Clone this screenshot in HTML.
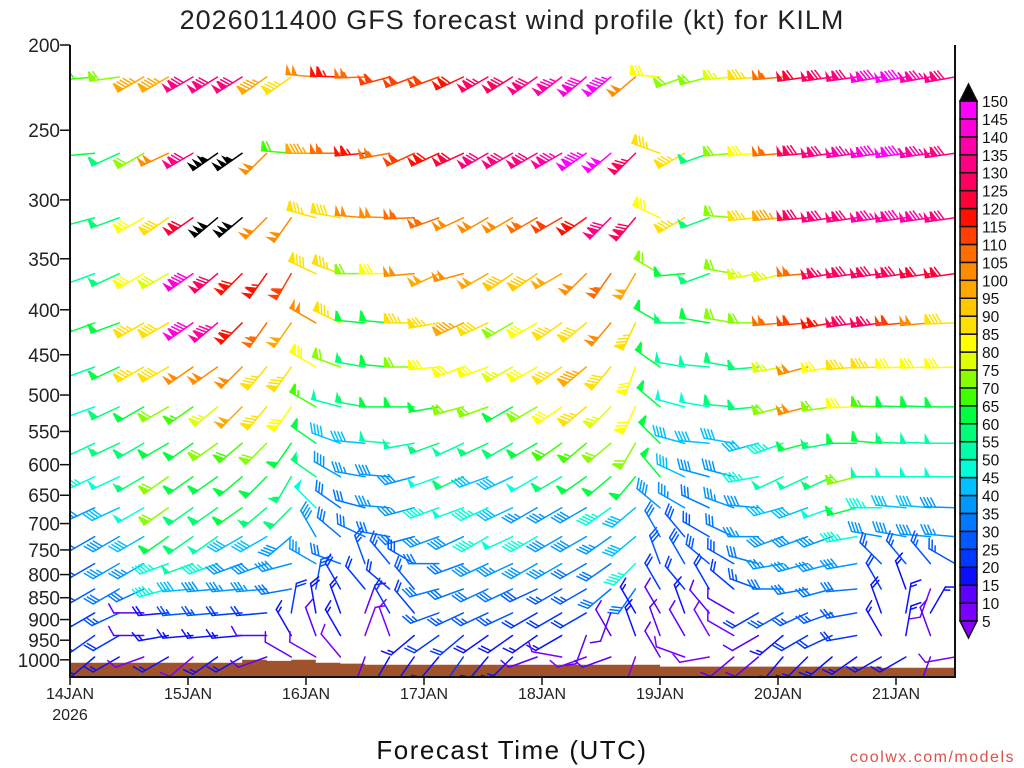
<!DOCTYPE html>
<html><head><meta charset="utf-8">
<style>
html,body{margin:0;padding:0;background:#fff;}
svg{display:block;font-family:"Liberation Sans",sans-serif;}
</style></head>
<body>
<svg id="chart" width="1024" height="768" viewBox="0 0 1024 768" xmlns="http://www.w3.org/2000/svg">
<defs><clipPath id="plotclip"><rect x="70" y="45" width="885" height="632"/></clipPath></defs>
<rect x="0" y="0" width="1024" height="768" fill="#fff"/>
<text x="512" y="29" text-anchor="middle" font-size="27" fill="#222" letter-spacing="1">2026011400 GFS forecast wind profile (kt) for KILM</text>
<g id="terrain"></g>
<g id="barbs" clip-path="url(#plotclip)"></g>
<g id="axes"></g>
<g id="colorbar"></g>
<text x="512" y="759" text-anchor="middle" font-size="26" fill="#111" letter-spacing="1.5">Forecast Time (UTC)</text>
<text x="1015" y="762" text-anchor="end" font-size="16" fill="#e0504a" letter-spacing="1.5">coolwx.com/models</text>
</svg>
<script>
const hours = [0,5,10,15,20,25,30,35,40,45,50,55,60,65,70,75,80,85,90,95,100,105,110,115,120,125,130,135,140,145,150,155,160,165,170,175,180];
const levels = [250,300,350,400,450,500,550,600,650,700,750,800,850,900,950,1000];
const yTickLabels = [200,250,300,350,400,450,500,550,600,650,700,750,800,850,900,950,1000];
const xTickLabels = ["14JAN","15JAN","16JAN","17JAN","18JAN","19JAN","20JAN","21JAN"];
const legendLevels = [5,10,15,20,25,30,35,40,45,50,55,60,65,70,75,80,85,90,95,100,105,110,115,120,125,130,135,140,145,150];
const legendColors = ["#7a00ff","#5c00ff","#0a10ff","#0038ff","#0058ff","#0078ff","#0098ff","#00c0ff","#00ffd8","#00ffa8","#00ff78","#00ff40","#40ff00","#88ff00","#e0ff00","#ffff00","#ffe000","#ffc800","#ffa800","#ff8c00","#ff6c00","#ff4000","#ff1000","#ff0038","#ff0060","#ff0080","#ff00a8","#ff00d8","#ff00ff"];
const sfcP = [1008,1008,1008,1008,1008,1008,1008,1000,1003,1000,1008,1010,1013,1013,1013,1013,1013,1013,1013,1013,1013,1013,1013,1013,1018,1018,1018,1018,1018,1018,1018,1018,1018,1021,1021,1021,1021];

const spd250 = [65,68,72,95,95,130,130,132,95,85,100,115,105,110,110,110,118,125,128,130,135,140,145,100,82,72,70,75,85,105,122,128,132,140,145,135,130];
const dir250 = [265,265,262,240,240,240,238,238,235,235,275,272,268,255,250,250,245,240,238,235,232,230,230,230,275,250,255,265,265,265,262,262,262,260,260,260,260];
const spd300 = [48,62,58,72,100,130,155,155,100,68,95,105,115,105,112,118,120,130,130,130,135,145,148,125,85,85,58,72,82,105,128,130,135,140,145,135,130];
const dir300 = [240,265,245,240,245,240,235,235,225,275,270,270,265,260,245,245,245,240,240,240,240,235,230,225,290,240,250,265,265,265,265,262,262,262,262,262,262];
const spd350 = [40,58,58,82,88,120,152,152,100,100,85,88,100,100,105,105,100,100,102,105,112,118,130,128,82,85,55,72,85,95,128,130,132,135,138,135,132];
const dir350 = [235,255,250,240,235,235,230,230,225,215,285,280,275,272,268,250,245,240,240,240,240,235,225,220,295,240,250,275,265,265,265,262,262,262,262,262,262];
const spd400 = [38,50,55,82,78,142,128,118,115,110,88,85,70,80,100,98,100,98,90,90,98,100,105,98,72,60,55,70,75,75,105,125,128,128,128,122,120];
const dir400 = [240,250,245,240,240,235,230,225,215,210,295,290,270,270,265,245,255,240,235,235,240,225,215,210,300,265,250,280,260,255,265,260,262,262,262,262,262];
const spd450 = [58,60,62,85,88,142,135,118,105,98,100,85,62,62,85,85,95,88,70,80,85,88,100,85,62,55,60,70,72,105,110,115,128,125,112,100,88];
const dir450 = [245,250,250,240,240,235,230,225,215,215,300,295,275,275,270,260,245,245,240,240,235,230,220,205,300,270,280,280,270,265,265,260,262,262,265,265,268];
const spd500 = [60,52,62,85,88,100,100,102,85,85,80,72,55,60,72,82,82,80,75,80,85,95,88,82,62,50,50,58,58,75,100,82,85,85,82,82,82];
const dir500 = [245,250,245,240,240,235,235,225,220,215,300,290,280,275,270,265,250,250,240,240,235,230,220,200,305,280,275,280,265,260,255,260,265,268,268,268,268];
const spd550 = [45,48,58,60,72,65,75,98,85,82,65,50,55,62,62,60,70,70,60,72,80,85,75,80,62,48,48,58,58,72,100,72,80,65,62,62,62];
const dir550 = [245,250,245,240,240,235,230,225,220,215,300,285,280,270,270,260,255,250,240,240,235,230,225,205,310,285,280,275,265,255,255,262,268,272,272,272,270];
const spd600 = [48,50,55,58,60,62,72,68,70,60,62,40,40,52,50,55,50,55,58,60,68,65,70,72,60,42,40,40,42,45,60,55,62,60,55,50,50];
const dir600 = [245,245,245,240,240,235,235,230,225,215,305,290,275,275,260,250,245,245,240,240,235,230,230,210,315,285,275,280,255,250,255,260,270,275,272,272,270];
const spd650 = [35,45,48,55,70,60,62,60,60,55,55,38,35,38,38,48,58,42,40,48,58,60,60,62,62,40,38,38,45,50,50,55,72,50,48,48,48];
const dir650 = [240,245,245,240,235,235,235,230,225,210,305,300,280,275,255,250,245,250,245,240,240,235,230,220,320,295,285,285,260,245,245,245,255,270,270,270,270];
const spd700 = [32,38,40,48,72,58,58,60,55,58,48,32,30,35,35,45,48,45,40,35,35,38,45,40,38,35,32,35,38,40,40,48,60,45,40,40,38];
const dir700 = [240,245,245,240,235,235,235,235,230,225,315,305,285,275,255,250,250,245,245,240,240,240,235,230,310,300,295,290,275,255,250,250,255,270,275,275,272];
const spd750 = [30,32,38,40,60,58,50,42,40,38,38,32,30,32,32,35,38,45,48,45,38,38,35,40,30,28,28,32,35,38,38,35,45,38,38,38,35];
const dir750 = [240,240,240,240,235,235,235,240,240,230,330,310,295,280,255,250,245,240,245,240,240,240,235,230,330,320,300,295,270,250,250,250,260,280,280,275,275];
const spd800 = [30,28,35,35,45,50,45,38,38,38,35,30,25,25,28,30,32,38,35,38,35,32,30,45,28,28,28,28,30,35,35,35,38,25,25,25,25];
const dir800 = [240,240,240,240,250,250,250,250,250,255,300,290,340,320,300,270,250,245,245,240,240,240,235,225,340,330,310,300,285,260,255,255,260,315,320,320,300];
const spd850 = [25,28,30,30,45,40,38,35,35,30,25,22,20,22,25,30,30,32,30,28,25,25,30,30,20,20,22,22,25,30,32,30,30,20,15,8,8];
const dir850 = [240,240,240,245,255,265,265,265,265,260,10,330,320,310,320,255,250,245,245,245,240,240,230,215,330,320,330,310,290,270,260,255,265,330,340,200,30];
const spd900 = [22,20,25,12,18,25,25,22,20,20,18,15,12,20,22,25,25,25,25,22,22,20,12,15,12,15,12,10,20,25,25,25,25,18,15,15,10];
const dir900 = [240,240,245,270,265,265,265,265,265,10,350,340,20,330,320,250,245,245,245,240,240,240,200,330,330,340,320,300,240,240,245,250,260,340,10,30,30];
const spd950 = [20,20,20,10,15,15,15,15,10,15,10,15,8,8,15,20,20,18,18,15,15,12,10,15,10,10,8,8,10,15,20,20,20,15,15,10,8];
const dir950 = [240,235,240,270,260,265,265,265,270,330,340,330,20,340,230,235,230,235,235,235,240,200,330,340,340,330,330,300,240,230,240,245,260,330,10,340,10];
const spd1000 = [15,15,15,8,15,8,15,15,10,10,8,8,10,15,18,18,20,18,15,10,8,8,10,8,10,8,8,10,10,15,15,15,15,15,15,10,8];
const dir1000 = [240,230,240,250,240,230,235,240,250,300,300,320,200,210,215,220,215,220,225,250,280,250,250,200,330,290,260,230,230,220,225,230,235,240,240,200,260];

const speeds = [spd250,spd300,spd350,spd400,spd450,spd500,spd550,spd600,spd650,spd700,spd750,spd800,spd850,spd900,spd950,spd1000];
const dirs = [dir250,dir300,dir350,dir400,dir450,dir500,dir550,dir600,dir650,dir700,dir750,dir800,dir850,dir900,dir950,dir1000];

const NS = "http://www.w3.org/2000/svg";
const PL = 70, PR = 955, PT = 45, PB = 677;
function xScale(h){ return PL + h / 24 * 118; }
function yScale(p){ return PT + Math.log(p / 200) * 382; }
function barbY(p){ return 77 + Math.log(p / 250) / Math.log(4) * 580; }
function mk(tag, attrs, parent){
  const e = document.createElementNS(NS, tag);
  for (const k in attrs) e.setAttribute(k, attrs[k]);
  parent.appendChild(e); return e;
}
function colorFor(s){
  if (s >= 150) return "#000";
  if (s < 5) return "#8800ff";
  return legendColors[Math.min(28, Math.floor(s / 5) - 1)];
}

const terr = document.getElementById("terrain");
let d = "M" + PL + "," + PB;
for (let k = 0; k < hours.length; k++) {
  const x0 = xScale(hours[k]), x1 = k < hours.length - 1 ? xScale(hours[k + 1]) : PR;
  const y = yScale(sfcP[k]);
  d += " L" + x0.toFixed(1) + "," + y.toFixed(1) + " L" + x1.toFixed(1) + "," + y.toFixed(1);
}
d += " L" + PR + "," + PB + " Z";
const tp = mk("path", {d: d, fill: "#a0522d"}, terr);



const bg = document.getElementById("barbs");
function drawBarb(x, y, spd, dir){
  const col = colorFor(spd);
  const g = mk("g", {stroke: col, fill: col, "stroke-width": 1.5, "stroke-linecap": "round"}, bg);
  
  
  const r = dir * Math.PI / 180, sx = Math.sin(r), sy = -Math.cos(r);
  const L = 30, tx = x + sx * L, ty = y + sy * L;
  const px = -sy, py = sx;
  const fx = (px * 0.9 + sx * 0.5) * 10, fy = (py * 0.9 + sy * 0.5) * 10;
  mk("line", {x1: x, y1: y, x2: tx, y2: ty}, g);
  let n = Math.round(spd / 5) * 5;
  const flags = Math.floor(n / 50); n -= flags * 50;
  const full = Math.floor(n / 10); n -= full * 10;
  const half = n >= 5 ? 1 : 0;
  let pos = 0;
  for (let i = 0; i < flags; i++) {
    const ax = tx - sx * pos, ay = ty - sy * pos;
    const cx = tx - sx * (pos + 5), cy = ty - sy * (pos + 5);
    mk("polygon", {points: ax + "," + ay + " " + (cx + fx) + "," + (cy + fy) + " " + cx + "," + cy, "stroke-width": 0.8}, g);
    pos += 6;
  }
  if (flags === 0 && full === 0 && half) pos = 3.5;
  for (let i = 0; i < full; i++) {
    const ax = tx - sx * pos, ay = ty - sy * pos;
    mk("line", {x1: ax, y1: ay, x2: ax + fx, y2: ay + fy}, g);
    pos += 3.5;
  }
  if (half) {
    const ax = tx - sx * pos, ay = ty - sy * pos;
    mk("line", {x1: ax, y1: ay, x2: ax + fx * 0.6, y2: ay + fy * 0.6}, g);
  }
}
for (let li = 0; li < levels.length; li++) {
  for (let k = 0; k < hours.length; k++) {
    drawBarb(xScale(hours[k]), barbY(levels[li]), speeds[li][k], dirs[li][k]);
  }
}

const ax = document.getElementById("axes");
const frame = mk("path", {d: "M" + PL + "," + PT + " L" + PL + "," + PB + " L" + PR + "," + PB + " L" + PR + "," + PT, fill: "none", stroke: "#111", "stroke-width": 2}, ax);


yTickLabels.forEach(function(p){
  const y = yScale(p);
  const t = mk("line", {x1: PL - 10, y1: y, x2: PL, y2: y, stroke: "#111", "stroke-width": 1.5}, ax);
  
  
  const lb = mk("text", {x: PL - 10, y: y + 7, "text-anchor": "end", "font-size": 19, fill: "#222"}, ax);
  
  
  lb.textContent = p;
});
xTickLabels.forEach(function(s, i){
  const x = xScale(i * 24);
  const t = mk("line", {x1: x, y1: PB, x2: x, y2: PB + 8, stroke: "#111", "stroke-width": 1.5}, ax);
  
  
  const lb = mk("text", {x: x, y: PB + 22, "text-anchor": "middle", "font-size": 16, fill: "#222"}, ax);
  
  
  lb.textContent = s;
});
const yr = mk("text", {x: xScale(0), y: PB + 43, "text-anchor": "middle", "font-size": 16, fill: "#222"}, ax);


yr.textContent = "2026";

const cb = document.getElementById("colorbar");
const CX = 960, CW = 17, CTOP = 101, CBOT = 621;
const step = (CBOT - CTOP) / (legendLevels.length - 1);
function cbY(v){ return CBOT - (v - 5) / 5 * step; }
for (let i = 0; i < legendColors.length; i++) {
  const y1 = cbY(legendLevels[i + 1]), y0 = cbY(legendLevels[i]);
  const r = mk("rect", {x: CX, y: y1, width: CW, height: y0 - y1, fill: legendColors[i], stroke: "#111", "stroke-width": 1.5}, cb);
  
  
}
const up = mk("polygon", {points: CX + "," + CTOP + " " + (CX + CW) + "," + CTOP + " " + (CX + CW / 2) + "," + (CTOP - 17), fill: "#000", stroke: "#111", "stroke-width": 1.5}, cb);


const dn = mk("polygon", {points: CX + "," + CBOT + " " + (CX + CW) + "," + CBOT + " " + (CX + CW / 2) + "," + (CBOT + 17), fill: "#8800ff", stroke: "#111", "stroke-width": 1.5}, cb);


legendLevels.forEach(function(v){
  const t = mk("text", {x: CX + CW + 5, y: cbY(v) + 6, "font-size": 15.5, fill: "#111"}, cb);
  
  
  t.textContent = v;
});
</script>
</body></html>
